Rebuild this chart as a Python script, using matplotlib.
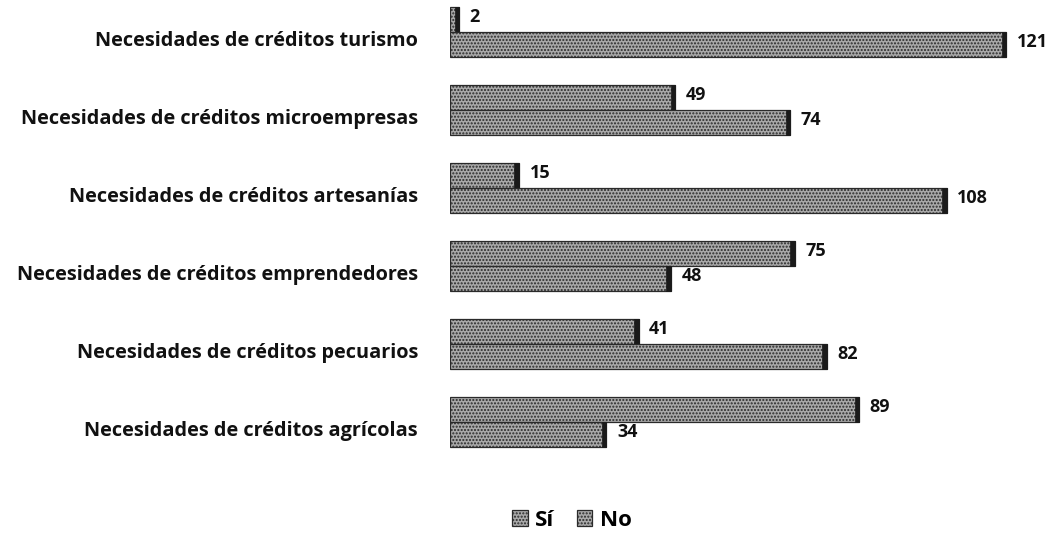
import matplotlib
matplotlib.use("Agg")
import matplotlib.pyplot as plt
import matplotlib.transforms as mtransforms
import numpy as np

categories = [
    "Necesidades de créditos turismo",
    "Necesidades de créditos microempresas",
    "Necesidades de créditos artesanías",
    "Necesidades de créditos emprendedores",
    "Necesidades de créditos pecuarios",
    "Necesidades de créditos agrícolas",
]
si_values = [2, 49, 15, 75, 41, 89]
no_values = [121, 74, 108, 48, 82, 34]
series_names = ["Sí", "No"]

plt.rcParams['font.family'] = ['Open Sans', 'DejaVu Sans']

fig = plt.figure(figsize=(10.61, 5.40), dpi=100)
ax = fig.add_axes([450 / 1061, 79 / 540, 607 / 1061, 461 / 540])

y = np.arange(len(categories))
h = 0.317
face = '#a9a9a9'
edge = '#2a2a2a'

for vals, off, name in [(si_values, -h / 2, series_names[0]), (no_values, h / 2, series_names[1])]:
    ax.barh(y + off, vals, height=h, color=face, edgecolor=edge, linewidth=0.9,
            hatch='.....', label=name)
    # dark end cap for the pseudo-3D look
    caps = [min(1.0, v) for v in vals]
    ax.barh(y + off, caps, left=np.array(vals) - np.array(caps), height=h,
            color='#1a1a1a', edgecolor='#1a1a1a', linewidth=0.5)
    for yi, v in zip(y + off, vals):
        ax.text(v + 2.3, yi - 0.03, str(v), va='center', ha='left', fontsize=13,
                fontweight='bold', color='#111111')

ax.set_xlim(0, 132)
ax.set_ylim(5.5, -0.41)
ax.set_yticks([])
ax.set_xticks([])
lbl_trans = mtransforms.offset_copy(ax.get_yaxis_transform(), fig=fig, x=-32, y=0, units='dots')
for yi, cat in zip(y, categories):
    ax.text(0, yi + 0.12, cat, transform=lbl_trans, ha='right', va='center',
            fontsize=14.3, fontweight='bold', color='#111111')
for s in ax.spines.values():
    s.set_visible(False)

handles, labels = ax.get_legend_handles_labels()
leg = fig.legend(handles[:2], labels[:2], loc='center', bbox_to_anchor=(572 / 1061, 1 - 520 / 540),
                 ncol=2, frameon=False, handlelength=0.7, handleheight=0.7,
                 handletextpad=0.35, columnspacing=1.0,
                 prop={'weight': 'bold', 'size': 16})

fig.savefig("out.png", dpi=100, facecolor='white')
